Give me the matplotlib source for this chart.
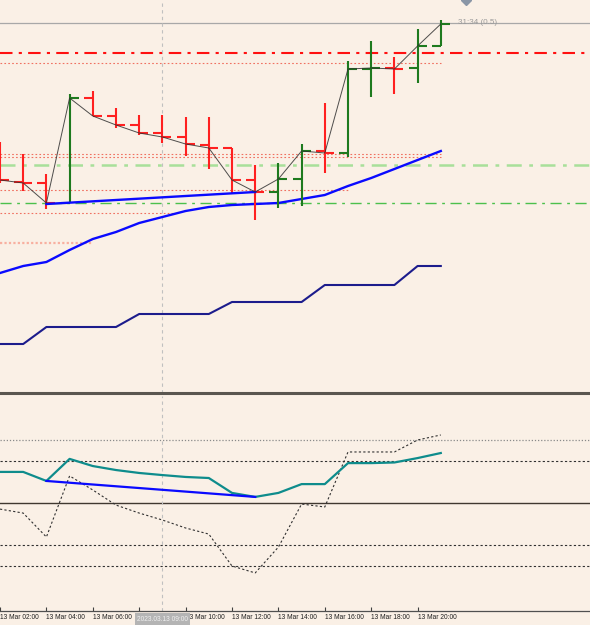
import matplotlib
matplotlib.use("Agg")
import matplotlib.pyplot as plt
import matplotlib.transforms as mtransforms
from matplotlib import font_manager
import numpy as np

# ---------------- data (price in chart points, indicator 0-100) ----------------
hours = [2, 3, 4, 5, 6, 7, 8, 9, 10, 11, 12, 13, 14, 15, 16, 17, 18, 19, 20, 21]
bar_open = [221, 211, 210, 190, 295, 277, 268, 260, 256, 248, 245, 213, 201, 214, 242, 240, 324, 325, 325, 347]
bar_high = [251, 239, 219, 299, 302, 285, 278, 278, 276, 276, 245, 228, 230, 249, 290, 332, 352, 336, 364, 373]
bar_low = [210, 202, 184, 190, 277, 265, 258, 250, 237, 224, 200, 173, 185, 187, 220, 236, 296, 299, 310, 347]
bar_close = [213, 210, 190, 295, 277, 268, 260, 256, 249, 245, 213, 201, 214, 242, 240, 324, 325, 324, 347, 369]

ma_fast = [120, 127, 131, 143, 154, 161, 170, 176, 182, 186, 188, 189, 190, 194, 198, 207, 215, 224, 233, 242]
ma_slow = [49, 49, 66, 66, 66, 66, 79, 79, 79, 79, 91, 91, 91, 91, 108, 108, 108, 108, 127, 127]

osc_main = [64.8, 64.8, 60.5, 71.0, 67.6, 65.7, 64.3, 63.3, 62.4, 61.9, 54.8, 52.9, 54.8, 59.0, 59.0, 69.0, 69.0, 69.3, 71.4, 73.8]
osc_signal = [47.1, 45.2, 33.8, 62.9, 56.2, 49.0, 45.2, 41.9, 38.1, 35.2, 20.0, 16.7, 29.0, 49.5, 48.1, 74.3, 74.3, 74.3, 80.0, 82.4]

div_idx = [2, 11]                      # divergence line end bars
osc_levels = [80, 70, 50, 30, 20]
bid_price = 370
countdown_text = "31:34 (0.5)"
crosshair_idx = 7
crosshair_label = "2023.03.13 09:00"
tick_idx = [0, 2, 4, 6, 8, 10, 12, 14, 16, 18]
tick_labels = ["13 Mar %02d:00" % hours[i] for i in tick_idx]

# horizontal level lines in main panel: (price, x_end_in_bars)
red_dashdot = 340
green_dashdot_light = 228
green_dashdot = 190
salmon_levels = [(330, 19.0), (239, 19.0), (236, 19.0), (203, 15.0), (180, 7.6)]
salmon_thick = (150, 4.0)

# ---------------- styling ----------------
bg = "#faf0e6"
names = {f.name for f in font_manager.fontManager.ttflist}
if "Liberation Sans Narrow" in names:
    lab_font, lab_size = ["Liberation Sans Narrow"], 5.6
elif "Liberation Sans" in names:
    lab_font, lab_size = ["Liberation Sans"], 4.8
else:
    lab_font, lab_size = ["DejaVu Sans"], 4.2

W, H = 590, 625
fig = plt.figure(figsize=(W / 100, H / 100), dpi=100, facecolor=bg)
px = 23.2  # pixels per bar
xmax = W / px

ax1 = fig.add_axes([0, (H - 393) / H, 1, 393 / H], facecolor=bg)
ax2 = fig.add_axes([0, (H - 611) / H, 1, 215 / H], facecolor=bg)

x = np.arange(len(hours))

# ---- main panel ----
ax1.set_xlim(0, xmax)
ax1.set_ylim(0, 393)
for s in ["top", "left", "right"]:
    ax1.spines[s].set_visible(False)
ax1.spines["bottom"].set_color("#5a5650")
ax1.spines["bottom"].set_linewidth(2.2)
ax1.set_xticks([])
ax1.set_yticks([])

ax1.axhline(bid_price, color="#a8a8a8", lw=0.9, zorder=1)
ax1.axhline(red_dashdot, color="#ff1010", lw=1.5, ls=(0, (6, 3, 1.5, 3)), zorder=1)
ax1.axhline(green_dashdot_light, color="#a8e09a", lw=1.8, ls=(0, (6, 3, 1.5, 3)), zorder=1)
ax1.axhline(green_dashdot, color="#4cc04c", lw=1.0, ls=(0, (8, 4, 2, 4)), zorder=1)
for lvl, xe in salmon_levels:
    ax1.hlines(lvl, 0, xe, color="#f07060", lw=0.8, ls=(0, (1.5, 2)), zorder=1)
ax1.hlines(salmon_thick[0], 0, salmon_thick[1], color="#f8b0a0", lw=1.6, ls=(0, (1, 1)), zorder=1)

ax1.axvline(crosshair_idx, color="#c0c0c0", lw=0.8, ls=(0, (3, 3)), zorder=1)

ax1.plot(x, ma_slow, color="#1c1c8c", lw=1.5, zorder=3)
ax1.plot(x, ma_fast, color="#0a0aff", lw=1.7, zorder=3)

tl = 9 / px
cols = ["#1e7a1e" if c >= o else "#ff2020" for o, c in zip(bar_open, bar_close)]
ax1.vlines(x, bar_low, bar_high, colors=cols, lw=1.5, zorder=4)
ax1.hlines(bar_open, x - tl, x, colors=cols, lw=1.5, zorder=4)
ax1.hlines(bar_close, x, x + tl, colors=cols, lw=1.5, zorder=4)
ax1.plot(x, bar_close, color="#303030", lw=0.7, alpha=0.85, zorder=5)

ax1.plot([x[div_idx[0]], x[div_idx[1]]], [bar_close[div_idx[0]] - 1, bar_close[div_idx[1]]],
         color="#0a0aff", lw=1.7, zorder=4.5)

ax1.text(458 / px, bid_price, countdown_text, color="#9a9a9a", fontsize=lab_size * 1.2,
         family=lab_font, ha="left", va="center", zorder=6)
ax1.plot([466 / px], [393], marker="D", ms=5, color="#8a96a6", clip_on=True, zorder=6)

# ---- lower panel ----
ax2.set_xlim(0, xmax)
ax2.set_ylim(50 - (611 - 503) / 2.1, 50 + (503 - 396) / 2.1)
for s in ["top", "left", "right"]:
    ax2.spines[s].set_visible(False)
ax2.spines["bottom"].set_color("#505050")
ax2.spines["bottom"].set_linewidth(0.9)
ax2.set_yticks([])

ax2.axhline(osc_levels[0], color="#8a8a8a", lw=0.9, ls=(0, (1, 1.5)), zorder=1)
ax2.axhline(osc_levels[1], color="#303030", lw=0.8, ls=(0, (2, 2)), zorder=1)
ax2.axhline(osc_levels[2], color="#403830", lw=1.0, zorder=1)
ax2.axhline(osc_levels[3], color="#303030", lw=0.8, ls=(0, (2, 2)), zorder=1)
ax2.axhline(osc_levels[4], color="#303030", lw=0.8, ls=(0, (2, 2)), zorder=1)

ax2.axvline(crosshair_idx, color="#c0c0c0", lw=0.8, ls=(0, (3, 3)), zorder=1)

ax2.plot(x, osc_signal, color="#303030", lw=0.8, ls=(0, (2, 2)), zorder=3)
ax2.plot(x, osc_main, color="#0e8c8c", lw=1.6, zorder=4)
ax2.plot([x[div_idx[0]], x[div_idx[1]]], [osc_main[div_idx[0]], osc_main[div_idx[1]]],
         color="#0a0aff", lw=1.6, zorder=4.5)

ax2.set_xticks(tick_idx)
ax2.set_xticklabels(tick_labels, fontsize=lab_size, family=lab_font, color="#202020")
ax2.tick_params(axis="x", direction="in", length=3, width=0.8, color="#404040", pad=2.5)
for lbl in ax2.get_xticklabels():
    lbl.set_horizontalalignment("left")

trans = mtransforms.blended_transform_factory(ax2.transData, ax2.transAxes)
ax2.text(crosshair_idx, -0.022, crosshair_label, transform=trans, ha="center", va="top",
         fontsize=lab_size, family=lab_font, color="#f0f0f0", zorder=10,
         bbox=dict(boxstyle="square,pad=0.35", fc="#b4b4b4", ec="none"))

fig.savefig("out.png", dpi=100, facecolor=bg)
